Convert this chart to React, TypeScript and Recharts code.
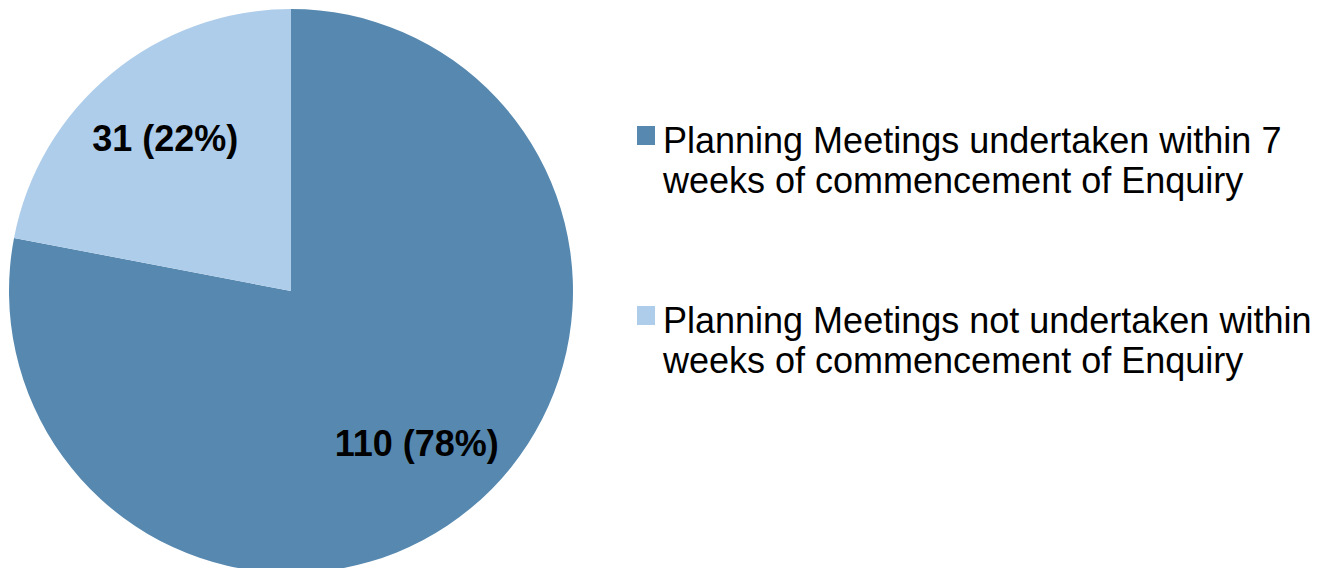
import React from 'react';
import { PieChart, Pie, Cell, Legend } from 'recharts';

const categories = [
  'Planning Meetings undertaken within 7 weeks of commencement of Enquiry',
  'Planning Meetings not undertaken within weeks of commencement of Enquiry',
];
const values = [110, 31];
const colors = ['#5789B0', '#AECDEA'];

const data = categories.map((name, i) => ({ name, value: values[i] }));

const FONT = '"Liberation Sans", Arial, Helvetica, sans-serif';

const renderLabel = (props: any) => {
  const { cx, cy, midAngle, outerRadius, value, percent } = props;
  const RAD = Math.PI / 180;
  const r = outerRadius * 0.7;
  const x = cx + r * Math.cos(-midAngle * RAD);
  const y = cy + r * Math.sin(-midAngle * RAD);
  return (
    <text
      x={x}
      y={y}
      textAnchor="middle"
      dominantBaseline="central"
      fontSize={36}
      fontWeight="bold"
      fontFamily={FONT}
      fill="#000"
    >
      {`${value} (${Math.round(percent * 100)}%)`}
    </text>
  );
};

const renderLegend = () => {
  return (
    <div style={{ fontFamily: FONT, fontSize: 36, lineHeight: '40px', color: '#000' }}>
      {categories.map((name, i) => (
        <div
          key={i}
          style={{ display: 'flex', alignItems: 'flex-start', marginBottom: i === 0 ? 100 : 0 }}
        >
          <div
            style={{
              width: 18,
              height: 19,
              background: colors[i],
              marginTop: 5,
              marginRight: 8,
              flex: '0 0 auto',
            }}
          />
          <div style={{ width: '19em' }}>{name}</div>
        </div>
      ))}
    </div>
  );
};

export default function App() {
  return (
    <div style={{ width: 1313, height: 560 }}>
      <PieChart width={1313} height={560} margin={{ top: 0, right: 0, bottom: 0, left: 0 }}>
        <Pie
          data={data}
          dataKey="value"
          nameKey="name"
          cx={283}
          cy={283}
          outerRadius={282}
          startAngle={90}
          endAngle={-270}
          stroke="none"
          label={renderLabel}
          labelLine={false}
          isAnimationActive={false}
        >
          {data.map((d, i) => (
            <Cell key={i} fill={colors[i]} />
          ))}
        </Pie>
        <Legend
          layout="vertical"
          verticalAlign="top"
          align="right"
          wrapperStyle={{ left: 629, top: 113, width: 700 }}
          content={renderLegend}
        />
      </PieChart>
    </div>
  );
}
